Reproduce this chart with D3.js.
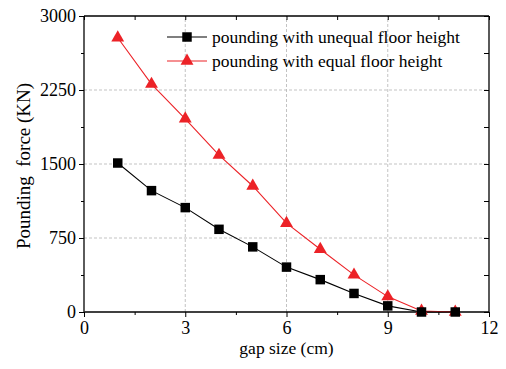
<!DOCTYPE html>
<html><head><meta charset="utf-8">
<script src="https://cdn.jsdelivr.net/npm/d3@7"></script>
<style>body{margin:0;background:#fff}svg{display:block}</style>
</head><body><div id="c"></div>
<script>
const gaps = [1,2,3,4,5,6,7,8,9,10,11];
const unequal = [1510,1230,1058,838,660,455,328,188,62,0,0];
const equal = [2780,2310,1958,1590,1277,900,636,376,156,10,0];
const xTicks = [0,3,6,9,12];
const yTicks = [0,750,1500,2250,3000];
const xMinor = [1.5,4.5,7.5,10.5];
const yMinor = [375,1125,1875,2625];
const seriesNames = ["pounding with unequal floor height","pounding with equal floor height"];

const FONT="'Liberation Serif','Times New Roman',serif";
const W=506,H=369;
const m={l:84,r:17,t:16,b:57};
const svg=d3.select("#c").append("svg").attr("width",W).attr("height",H).style("font-family",FONT);
const x=d3.scaleLinear().domain([0,12]).range([m.l,W-m.r]);
const y=d3.scaleLinear().domain([0,3000]).range([H-m.b,m.t]);
const x0=x(0),x1=x(12),y0=y(0),y1=y(3000);

// grid
const g=svg.append("g");
g.selectAll(".gx").data(xTicks.slice(1,-1)).join("line")
 .attr("x1",d=>x(d)).attr("x2",d=>x(d)).attr("y1",y0).attr("y2",y1)
 .attr("stroke","#b4b4b4").attr("stroke-width",0.8).attr("stroke-dasharray","3,2");
g.selectAll(".gy").data(yTicks.slice(1,-1)).join("line")
 .attr("x1",x0).attr("x2",x1).attr("y1",d=>y(d)).attr("y2",d=>y(d))
 .attr("stroke","#b4b4b4").attr("stroke-width",0.8).attr("stroke-dasharray","3,2");

// axes
const fs=18;
const axB=d3.axisBottom(x).tickValues(xTicks).tickSize(5).tickPadding(4).tickFormat(d3.format("d"));
const bx=svg.append("g").attr("transform",`translate(0,${y0})`).call(axB);
const axL=d3.axisLeft(y).tickValues(yTicks).tickSize(5).tickPadding(3).tickFormat(d3.format("d"));
const ly=svg.append("g").attr("transform",`translate(${x0},0)`).call(axL);
const axT=d3.axisBottom(x).tickValues(xTicks.concat(xMinor)).tickSize(4).tickFormat("");
const tx=svg.append("g").attr("transform",`translate(0,${y1})`).call(axT);
const axR=d3.axisLeft(y).tickValues(yTicks.concat(yMinor)).tickSize(5).tickFormat("");
const ry=svg.append("g").attr("transform",`translate(${x1},0)`).call(axR);
// minor outward ticks
const mb=svg.append("g").attr("transform",`translate(0,${y0})`).call(d3.axisBottom(x).tickValues(xMinor).tickSize(3).tickFormat(""));
const ml=svg.append("g").attr("transform",`translate(${x0},0)`).call(d3.axisLeft(y).tickValues(yMinor).tickSize(3).tickFormat(""));
mb.select(".domain").remove(); ml.select(".domain").remove();
svg.selectAll("g").attr("font-family",null).attr("font-size",null);
svg.selectAll(".domain").attr("stroke","#000").attr("stroke-width",1.3);
svg.selectAll(".tick line").attr("stroke","#000").attr("stroke-width",1);
svg.selectAll(".tick text").attr("fill","#000").style("font-family",FONT).style("font-size",fs+"px");
ly.select(".domain").attr("stroke","#333").attr("stroke-width",1.6);
bx.select(".domain").attr("d",`M${x0},0H${x1}`);
ly.select(".domain").attr("d",`M0,${y0}V${y1}`);
tx.select(".domain").attr("d",`M${x0},0H${x1}`);
ry.select(".domain").attr("d",`M0,${y0}V${y1}`);

// lines
const line=d3.line().x((d,i)=>x(gaps[i])).y(d=>y(d));
const plot=svg.append("g");
plot.append("path").datum(equal).attr("d",line).attr("fill","none").attr("stroke","#ec2227").attr("stroke-width",1.1);
plot.append("path").datum(unequal).attr("d",line).attr("fill","none").attr("stroke","#000").attr("stroke-width",1.1);
const tri=d3.symbol().type(d3.symbolTriangle).size(72);
const sq=d3.symbol().type(d3.symbolSquare).size(90);
plot.selectAll(".t").data(equal).join("path").attr("d",tri)
 .attr("transform",(d,i)=>`translate(${x(gaps[i])},${y(d)})`).attr("fill","#ec2227");
plot.selectAll(".s").data(unequal).join("path").attr("d",sq)
 .attr("transform",(d,i)=>`translate(${x(gaps[i])},${y(d)})`).attr("fill","#000");

// legend
const leg=svg.append("g");
const lx=167, ly0=37, dy=24;
[[sq,"#000"],[tri,"#ec2227"]].forEach((s,i)=>{
  const yy=ly0+i*dy;
  leg.append("line").attr("x1",lx).attr("x2",lx+40).attr("y1",yy).attr("y2",yy).attr("stroke",s[1]).attr("stroke-width",1.1);
  leg.append("path").attr("d",s[0]).attr("transform",`translate(${lx+20},${yy})`).attr("fill",s[1]);
  leg.append("text").attr("x",lx+45).attr("y",yy+6).style("font-family",FONT).style("font-size","17.5px").text(seriesNames[i]);
});

// axis labels
svg.append("text").attr("x",(x0+x1)/2).attr("y",H-15).attr("text-anchor","middle").style("font-family",FONT).style("font-size","17.5px").text("gap size (cm)");
svg.append("text").attr("transform",`translate(30,166) rotate(-90)`).attr("text-anchor","middle").style("font-family",FONT).style("font-size","19px").style("white-space","pre").text("Pounding  force (KN)");
</script></body></html>
